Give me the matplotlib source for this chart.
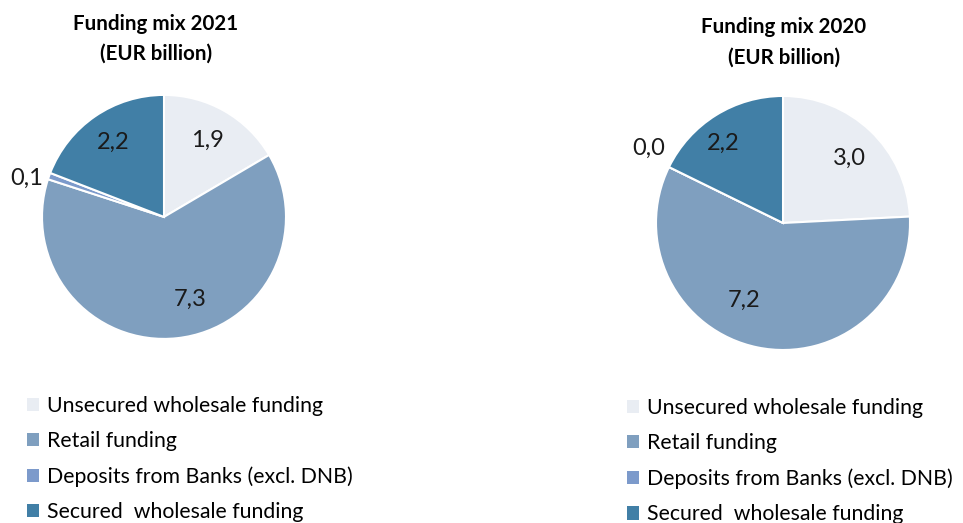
import matplotlib.pyplot as plt
from matplotlib.patches import Patch
import numpy as np

plt.rcParams['font.family'] = ['Lato', 'DejaVu Sans']

categories = ["Unsecured wholesale funding", "Retail funding",
              "Deposits from Banks (excl. DNB)", "Secured  wholesale funding"]
values_2021 = [1.9, 7.3, 0.1, 2.2]
values_2020 = [3.0, 7.2, 0.0, 2.2]
colors = ["#E9EDF3", "#7F9FBF", "#7C9ACB", "#417FA6"]

# label radius and small angle nudge, per slice
lab_r_2021 = [0.72, 0.71, 1.17, 0.74]
lab_da_2021 = [0, 11, 4, 0]
lab_r_2020 = [0.73, 0.68, 1.21, 0.78]
lab_da_2020 = [-2, -15, -3, 5]


def fmt(v):
    return ("%.1f" % v).replace(".", ",")


def draw_pie(fig, rect, vals, lab_r, lab_da, title, title_xy, leg_xy):
    ax = fig.add_axes(rect)
    wedges, _ = ax.pie(vals, colors=colors, startangle=90, counterclock=False,
                       wedgeprops=dict(edgecolor="white", linewidth=1.5))
    ax.set_xlim(-1, 1)
    ax.set_ylim(-1, 1)
    ax.set_aspect("equal")
    for w, v, r, da in zip(wedges, vals, lab_r, lab_da):
        a = np.deg2rad((w.theta1 + w.theta2) / 2 + da)
        ax.text(r * np.cos(a), r * np.sin(a), fmt(v), ha="center", va="center",
                fontsize=17, color="#1a1a1a", clip_on=False)
    fig.text(title_xy[0], title_xy[1], title, ha="center", va="center",
             fontsize=14.8, fontweight="bold", linespacing=1.65)
    handles = [Patch(facecolor=c, edgecolor="none") for c in colors]
    fig.legend(handles, categories, loc="upper left", bbox_to_anchor=leg_xy,
               frameon=False, fontsize=15.3, handlelength=0.57, handleheight=0.57,
               handletextpad=0.38, labelspacing=0.72, borderpad=0, borderaxespad=0)


def main():
    fig = plt.figure(figsize=(9.63, 5.23), dpi=100)
    draw_pie(fig, [0.0436, 0.352, 0.2534, 0.4665], values_2021, lab_r_2021, lab_da_2021,
             "Funding mix 2021\n(EUR billion)", (0.162, 0.926), (0.028, 0.243))
    draw_pie(fig, [0.6812, 0.3308, 0.2638, 0.4857], values_2020, lab_r_2020, lab_da_2020,
             "Funding mix 2020\n(EUR billion)", (0.814, 0.919), (0.651, 0.239))
    fig.savefig("out.png", dpi=100)


if __name__ == "__main__":
    main()
